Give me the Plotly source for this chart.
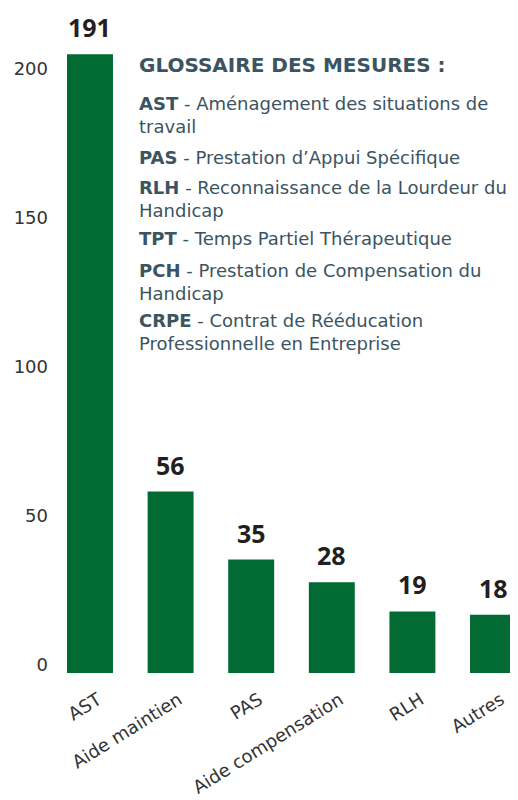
import plotly.graph_objects as go

categories = ["AST", "Aide maintien", "PAS", "Aide compensation", "RLH", "Autres"]
values = [191, 56, 35, 28, 19, 18]
tick_values = [0, 50, 100, 150, 200]
tick_labels = ["0", "50", "100", "150", "200"]

glossary_title = "GLOSSAIRE DES MESURES :"
glossary_abbr = ["AST", "PAS", "RLH", "TPT", "PCH", "CRPE"]
glossary_text = [
    "Aménagement des situations de<br>travail",
    "Prestation d’Appui Spécifique",
    "Reconnaissance de la Lourdeur du<br>Handicap",
    "Temps Partiel Thérapeutique",
    "Prestation de Compensation du<br>Handicap",
    "Contrat de Rééducation<br>Professionnelle en Entreprise",
]

OFF = 8  # page body margin
W, H = 518 - OFF, 800 - OFF
ML, MR, MT, MB = 55 - OFF, 0, 10 - OFF, 127
plot_h = H - MT - MB
plot_w = W - ML - MR

FONT = "DejaVu Sans"
NUMFONT = "Open Sans"
GREEN = "#016b33"
DARK = "#231f20"
SLATE = "#3b5462"

fig = go.Figure()
fig.add_trace(go.Bar(
    x=categories, y=values, marker_color=GREEN, marker_line_width=0,
    yaxis="y", hoverinfo="skip",
))
fig.add_trace(go.Scatter(x=[categories[0]], y=[0], yaxis="y2", mode="markers",
                         marker_opacity=0, showlegend=False, hoverinfo="skip"))

for c, v in zip(categories, values):
    fig.add_annotation(x=c, y=v, xref="x", yref="y", text=f"<b>{v}</b>",
                       showarrow=False, yanchor="bottom", yshift=9, borderpad=0,
                       font=dict(family=NUMFONT, size=25, color=DARK))

def py(px):
    return (H + OFF - MB - px) / plot_h

def pxx(px):
    return (px - OFF - ML) / plot_w

fig.add_annotation(x=pxx(137), y=py(51), xref="paper", yref="paper",
                   xanchor="left", yanchor="top", align="left", showarrow=False,
                   text=f"<b>{glossary_title}</b>",
                   font=dict(family=FONT, size=20, color=SLATE))
tops = [91, 145, 175, 226, 258, 308]
for ab, tx, t in zip(glossary_abbr, glossary_text, tops):
    fig.add_annotation(x=pxx(137), y=py(t), xref="paper", yref="paper",
                       xanchor="left", yanchor="top", align="left", showarrow=False,
                       text=f"<b>{ab}</b> - {tx}",
                       font=dict(family=FONT, size=18, color=SLATE))

fig.update_layout(
    width=W, height=H,
    margin=dict(l=ML, r=MR, t=MT, b=MB, autoexpand=False),
    paper_bgcolor="white", plot_bgcolor="white",
    showlegend=False, bargap=0.43,
    font=dict(family=FONT, color="#333333"),
    xaxis=dict(range=[-0.434, 5.31], tickangle=-32, showgrid=False, zeroline=False,
               showline=False, ticks="", ticklabelstandoff=12, ticklabelshift=8,
               automargin=False,
               tickfont=dict(size=18, color="#333333")),
    yaxis=dict(range=[0, plot_h / 3.24], visible=False, showgrid=False, zeroline=False,
               automargin=False),
    yaxis2=dict(overlaying="y", side="left", range=[-2.68, 219.6],
                tickvals=tick_values, ticktext=tick_labels,
                showgrid=False, zeroline=False, showline=False, ticks="",
                ticklabelstandoff=6, automargin=False,
                tickfont=dict(size=18, color="#333333")),
)

fig.write_html("out.html")
